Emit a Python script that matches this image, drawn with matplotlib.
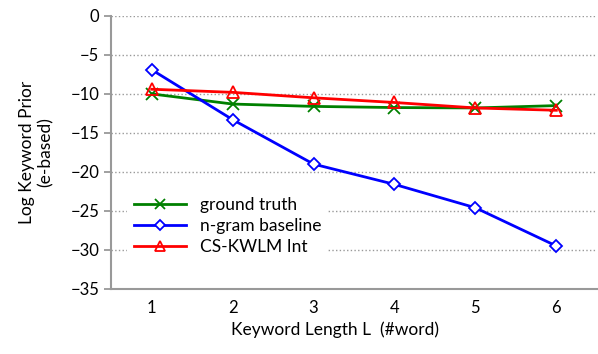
import matplotlib.pyplot as plt

plt.rcParams['font.family'] = ['Lato', 'DejaVu Sans']

lengths = [1, 2, 3, 4, 5, 6]
ground_truth = [-10.0, -11.3, -11.6, -11.75, -11.8, -11.5]
ngram_baseline = [-6.9, -13.3, -19.0, -21.6, -24.6, -29.5]
cs_kwlm = [-9.4, -9.8, -10.5, -11.1, -11.8, -12.1]

fig = plt.figure(figsize=(5.98, 3.54), dpi=100)
ax = fig.add_axes([0.186, 0.184, 0.812, 0.771])

ax.plot(lengths, ground_truth, color='#008000', lw=2, marker='x', ms=9, mew=1.3,
        label='ground truth', zorder=3)
ax.plot(lengths, ngram_baseline, color='#0000ff', lw=2, marker='D', ms=6.5, mew=1.3,
        mfc='white', label='n-gram baseline', zorder=4)
ax.plot(lengths, cs_kwlm, color='#ff0000', lw=2, marker='^', ms=9, mew=1.3,
        mfc='none', label='CS-KWLM Int', zorder=5)

ax.set_xlim(0.5, 6.5)
ax.set_ylim(-35, 0)
ax.set_yticks(range(-35, 1, 5))
ax.set_xticks(lengths)
ax.yaxis.grid(True, color='#999999', linestyle=':', lw=1)
ax.set_axisbelow(True)

for s in ['top', 'right']:
    ax.spines[s].set_visible(False)
for s in ['left', 'bottom']:
    ax.spines[s].set_color('#999999')
    ax.spines[s].set_linewidth(1.5)
ax.tick_params(axis='y', colors='#999999', labelcolor='black', labelsize=12, length=5, width=1.3)
ax.tick_params(axis='x', length=0, labelsize=12, pad=8)

ax.set_xlabel('Keyword Length L  (#word)', fontsize=12.5)
ax.xaxis.set_label_coords(0.46, -0.12, transform=ax.transAxes)
ax.xaxis.label.set_va('top')
ax.set_ylabel('Log Keyword Prior\n(e-based)', fontsize=12.5, labelpad=12)

leg = ax.legend(loc='lower left', bbox_to_anchor=(0.025, 0.085), frameon=True,
                fontsize=12.5, handlelength=3, labelspacing=0.3, borderaxespad=0.2,
                markerscale=0.85)
leg.get_frame().set_edgecolor('none')
leg.get_frame().set_facecolor('white')
leg.get_frame().set_alpha(1)

fig.savefig('out.png', dpi=100)
